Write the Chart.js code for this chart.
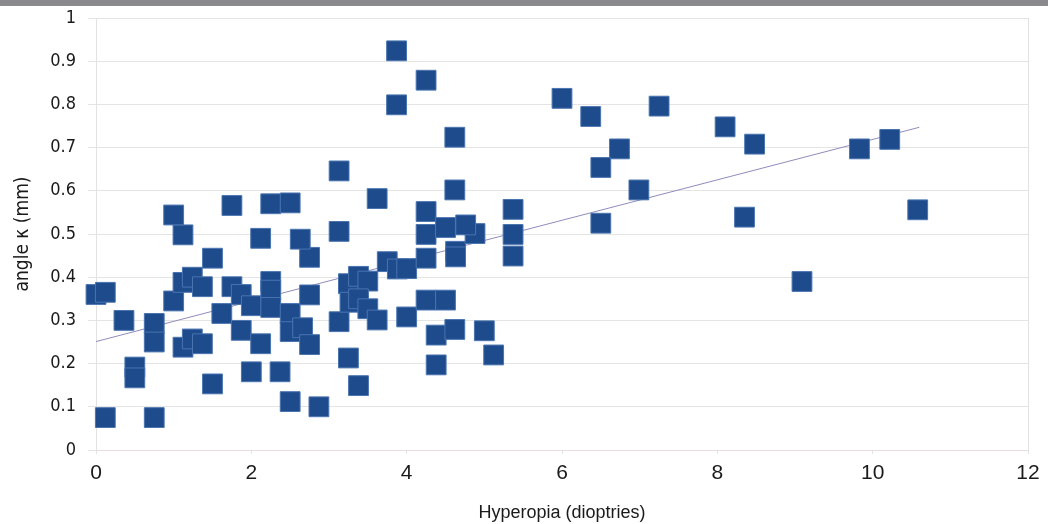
<!DOCTYPE html>
<html>
<head>
<meta charset="utf-8">
<script src="https://cdn.jsdelivr.net/npm/chart.js@4.4.0/dist/chart.umd.min.js"></script>
<style>
  html, body { margin: 0; padding: 0; background: #fff; }
  #wrap { position: relative; width: 1048px; height: 524px; }
  #topbar { position: absolute; left: 0; top: 0; width: 1048px; height: 6px; background: #8a8a8c; }
</style>
</head>
<body>
<div id="wrap">
  <canvas id="kappaChart" width="1048" height="524"></canvas>
  <div id="topbar"></div>
</div>
<script>
// Values
const hyperopia = [
  0.00, 0.12, 0.36, 0.12, 0.50, 0.50, 0.75, 0.75, 0.75, 1.00,
  1.12, 1.24, 1.37, 1.12, 1.24, 1.37, 1.50, 1.50, 1.62, 1.12,
  1.00, 1.75, 1.75, 1.87, 1.87, 2.00, 2.00, 2.12, 2.12, 2.25,
  2.25, 2.25, 2.25, 2.50, 2.37, 2.50, 2.50, 2.50, 2.66, 2.75,
  2.75, 2.75, 2.63, 2.87, 3.13, 3.13, 3.13, 3.25, 3.25, 3.38,
  3.50, 3.27, 3.38, 3.50, 3.62, 3.38, 3.75, 3.88, 4.00, 4.00,
  4.25, 4.25, 4.25, 4.50, 4.38, 4.38, 4.62, 4.63, 4.63, 5.00,
  5.12, 5.37, 5.37, 5.37, 4.88, 3.87, 4.25, 3.87, 4.62, 4.62,
  3.62, 4.25, 4.50, 4.76, 6.00, 6.37, 7.25, 6.74, 6.50, 6.99,
  6.50, 8.10, 8.48, 8.35, 9.09, 9.83, 10.22, 10.58
];
const angleKappa = [
  0.360, 0.365, 0.300, 0.075, 0.192, 0.167, 0.293, 0.250, 0.075, 0.345,
  0.388, 0.400, 0.378, 0.238, 0.257, 0.246, 0.444, 0.153, 0.316, 0.498,
  0.544, 0.566, 0.378, 0.360, 0.277, 0.334, 0.181, 0.246, 0.490, 0.390,
  0.370, 0.330, 0.570, 0.572, 0.181, 0.316, 0.274, 0.112, 0.283, 0.244,
  0.359, 0.446, 0.488, 0.100, 0.646, 0.506, 0.297, 0.213, 0.385, 0.402,
  0.391, 0.342, 0.350, 0.327, 0.301, 0.149, 0.436, 0.419, 0.420, 0.308,
  0.444, 0.499, 0.347, 0.347, 0.266, 0.197, 0.279, 0.460, 0.447, 0.276,
  0.220, 0.499, 0.449, 0.557, 0.501, 0.924, 0.856, 0.799, 0.724, 0.602,
  0.582, 0.552, 0.515, 0.521, 0.814, 0.772, 0.796, 0.697, 0.654, 0.602,
  0.525, 0.748, 0.708, 0.539, 0.390, 0.697, 0.719, 0.556
];
// linear trend line end points
const trendX = [0, 10.6];
const trendY = [0.251, 0.747];

const xTicks = [0, 2, 4, 6, 8, 10, 12];
const yTicks = [0, 0.1, 0.2, 0.3, 0.4, 0.5, 0.6, 0.7, 0.8, 0.9, 1];

const points = hyperopia.map((x, i) => ({ x: x, y: angleKappa[i] }));
const trend = trendX.map((x, i) => ({ x: x, y: trendY[i] }));

const narrow = "'Liberation Sans Narrow', 'DejaVu Sans Condensed', 'Roboto Condensed', sans-serif";
const arial = "'Liberation Sans', Arial, sans-serif";

const ctx = document.getElementById('kappaChart').getContext('2d');
const kappaChart = new Chart(ctx, {
    type: 'scatter',
    data: {
        datasets: [{
            label: 'angle kappa',
            data: points,
            pointStyle: 'rect',
            pointRadius: 14,
            backgroundColor: '#1d4b8c',
            borderColor: '#4a74b0',
            borderWidth: 1,
            clip: false,
            order: 0
        }, {
            type: 'line',
            label: 'trend',
            data: trend,
            borderColor: '#8e8cbc',
            borderWidth: 1,
            pointRadius: 0,
            fill: false,
            order: 1
        }]
    },
    options: {
        responsive: false,
        animation: false,
        layout: { padding: { top: 18, right: 20, left: 0, bottom: 0 } },
        plugins: {
            legend: { display: false },
            tooltip: { enabled: false }
        },
        scales: {
            x: {
                type: 'linear',
                min: 0,
                max: 12,
                afterBuildTicks: (scale) => { scale.ticks = xTicks.map(v => ({ value: v })); },
                afterFit: (scale) => { scale.height = 74; },
                grid: {
                    drawOnChartArea: true,
                    color: (c) => (c.tick && (c.tick.value === 12 || c.tick.value === 0)) ? '#e2e2e2' : 'rgba(0,0,0,0)',
                    drawTicks: true,
                    tickLength: 4,
                    tickColor: '#e6e0e0'
                },
                border: { display: true, color: '#e8dcdc', width: 1 },
                ticks: {
                    color: '#1a1a1a',
                    font: { family: arial, size: 21 },
                    padding: 7,
                    maxRotation: 0
                },
                title: {
                    display: true,
                    text: 'Hyperopia (dioptries)',
                    color: '#1a1a1a',
                    font: { family: arial, size: 18 },
                    padding: { top: 0, bottom: 0 }
                }
            },
            y: {
                type: 'linear',
                min: 0,
                max: 1,
                afterBuildTicks: (scale) => { scale.ticks = yTicks.map(v => ({ value: v })); },
                afterFit: (scale) => {
                    // fixed axis width, and no extra room above the top label
                    scale.width = 96;
                    scale.paddingTop = 0;
                    scale.paddingBottom = 0;
                },
                grid: {
                    color: '#e4e4e4',
                    drawTicks: true,
                    tickLength: 8,
                    tickColor: '#e4e4e4'
                },
                border: { display: false },
                ticks: {
                    color: '#1a1a1a',
                    font: { family: narrow, size: 18 },
                    padding: 12,
                    callback: (v) => String(+v.toFixed(1))
                },
                title: {
                    display: true,
                    text: 'angle κ (mm)',
                    color: '#1a1a1a',
                    font: { family: narrow, size: 19 },
                    padding: { top: 12, bottom: 0 }
                }
            }
        }
    }
});
</script>
</body>
</html>
